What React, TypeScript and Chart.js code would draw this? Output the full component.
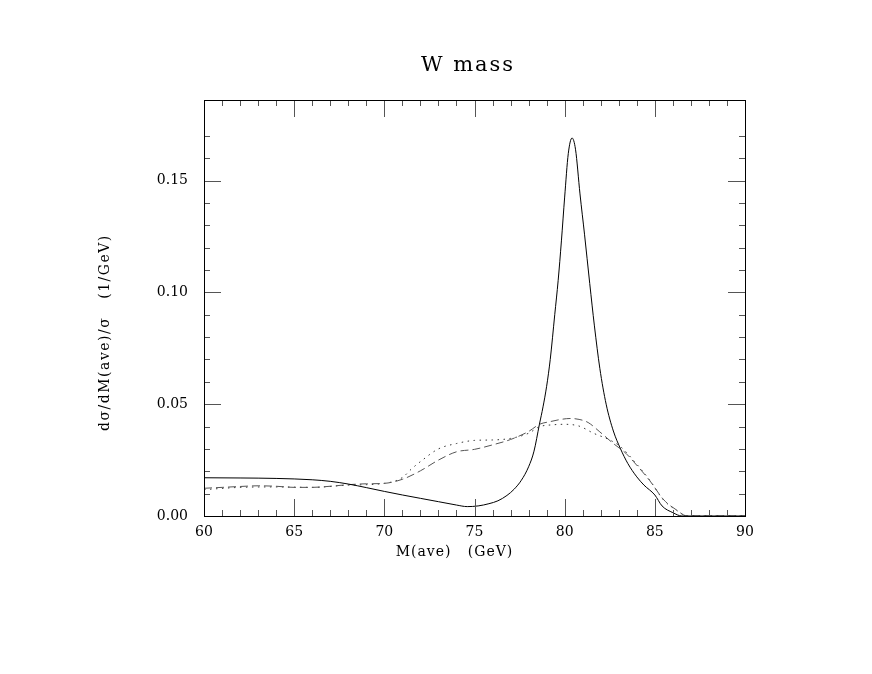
import { useEffect, useRef } from 'react'
import { Chart, registerables } from 'chart.js'

Chart.register(...registerables)

// M(ave) in GeV against d(sigma)/dM / sigma in 1/GeV
const solidMass = [
  60, 62, 64, 66, 67, 68, 69, 70, 71, 72, 73, 74, 74.6, 75.2, 75.8, 76.3, 76.8, 77.2, 77.6, 78,
  78.3, 78.6, 78.8, 79, 79.2, 79.45, 79.64, 79.82, 80, 80.2, 80.41, 80.6, 80.85, 81.1, 81.39,
  81.65, 81.95, 82.3, 82.7, 83.1, 83.5, 84, 84.4, 85, 85.4, 86, 86.5, 90,
]
const solidValue = [
  0.0171, 0.017, 0.0168, 0.0162, 0.0155, 0.0143, 0.0127, 0.011, 0.0094, 0.0079, 0.0064, 0.0049,
  0.0042, 0.0045, 0.0055, 0.0068, 0.0092, 0.012, 0.016, 0.022, 0.029, 0.041, 0.0488, 0.058, 0.07,
  0.09, 0.1054, 0.123, 0.1426, 0.162, 0.169, 0.164, 0.144, 0.126, 0.104, 0.085, 0.066, 0.05,
  0.038, 0.03, 0.0235, 0.0175, 0.0138, 0.0094, 0.0045, 0.0015, 0, 0,
]

const dashedMass = [
  60, 61, 62, 63, 64, 65, 66, 67, 68, 69, 70, 71, 72, 73, 74, 75, 76, 77, 78, 78.6, 79.2, 79.8,
  80.3, 80.8, 81.3, 81.95, 82.7, 83.4, 83.8, 84.7, 85.5, 86.2, 86.8, 90,
]
const dashedValue = [
  0.0124, 0.0128, 0.0132, 0.0135, 0.0133, 0.0128, 0.0128, 0.0133, 0.014, 0.0144, 0.0146, 0.0164,
  0.0202, 0.025, 0.0287, 0.0298, 0.0318, 0.0342, 0.0378, 0.041, 0.0422, 0.0432, 0.0436, 0.0432,
  0.0418, 0.0376, 0.0324, 0.028, 0.0245, 0.016, 0.0072, 0.0027, 0, 0,
]

const dottedMass = [
  60, 62, 64, 66, 68, 70, 71, 71.5, 72, 73, 74, 75, 76, 77, 78, 78.6, 79.4, 80, 80.8, 81.6, 82.5,
  83.1, 83.8, 84.7, 85.5, 86.2, 86.8, 90,
]
const dottedValue = [
  0.0118, 0.0128, 0.013, 0.0128, 0.0138, 0.0146, 0.0172, 0.021, 0.0243, 0.03, 0.0324, 0.0338,
  0.034, 0.0347, 0.037, 0.0399, 0.0408, 0.041, 0.0402, 0.037, 0.034, 0.031, 0.025, 0.0162, 0.007,
  0.0026, 0, 0,
]

const xLabels = [60, 65, 70, 75, 80, 85, 90]
const yLabels = [0, 0.05, 0.1, 0.15]

const FONT = '"DejaVu Serif", serif'

const toPoints = (xs: number[], ys: number[]) => xs.map((x, i) => ({ x, y: ys[i] }))

const isMajorY = (v: number) => yLabels.some(l => Math.abs(l - v) < 1e-6)
const onGridY = (v: number) => Math.abs(v * 100 - Math.round(v * 100)) < 1e-6

// frame, inward ticks on all four sides and the text labels
const framePlugin = {
  id: 'frame',
  afterDraw(chart: Chart) {
    const { ctx, chartArea: a } = chart
    const xs = chart.scales.x
    const ys = chart.scales.y
    const w = a.right - a.left
    const h = a.bottom - a.top
    ctx.save()

    ctx.strokeStyle = '#555'
    ctx.lineWidth = 1
    ctx.beginPath()
    xs.ticks.forEach(t => {
      const px = Math.round(xs.getPixelForValue(t.value)) + 0.5
      const len = xLabels.includes(t.value) ? 17 : 6
      ctx.moveTo(px, a.bottom)
      ctx.lineTo(px, a.bottom - len)
      ctx.moveTo(px, a.top)
      ctx.lineTo(px, a.top + len)
    })
    ys.ticks.forEach(t => {
      if (!onGridY(t.value)) return
      const py = Math.round(ys.getPixelForValue(t.value)) + 0.5
      const len = isMajorY(t.value) ? 17 : 6
      ctx.moveTo(a.left, py)
      ctx.lineTo(a.left + len, py)
      ctx.moveTo(a.right, py)
      ctx.lineTo(a.right - len, py)
    })
    ctx.stroke()

    ctx.strokeStyle = '#000'
    ctx.strokeRect(a.left + 0.5, a.top + 0.5, w, h)

    ctx.fillStyle = '#000'
    ctx.textAlign = 'center'
    ctx.textBaseline = 'middle'

    ctx.font = `21px ${FONT}`
    ;(ctx as any).letterSpacing = '2px'
    ctx.fillText('W mass', a.left + w * 0.488, a.top - 34)

    ctx.font = `14px ${FONT}`
    ;(ctx as any).letterSpacing = '1px'
    ctx.fillText('M(ave)   (GeV)', a.left + w * 0.463, a.bottom + 36)

    ;(ctx as any).letterSpacing = '1.5px'
    ctx.translate(105, a.top + h * 0.559)
    ctx.rotate(-Math.PI / 2)
    ctx.fillText('d\u03c3/dM(ave)/\u03c3   (1/GeV)', 0, 0)

    ctx.restore()
  },
}

const WMassChart = () => {
  const canvasRef = useRef<HTMLCanvasElement>(null)
  const chartRef = useRef<Chart | null>(null)

  useEffect(() => {
    if (!canvasRef.current) return
    if (chartRef.current) chartRef.current.destroy()

    const line = {
      pointRadius: 0,
      borderWidth: 1,
      fill: false,
      cubicInterpolationMode: 'monotone' as const,
    }

    chartRef.current = new Chart(canvasRef.current, {
      type: 'line',
      data: {
        datasets: [
          { ...line, label: 'solid', data: toPoints(solidMass, solidValue), borderColor: '#000' },
          {
            ...line,
            label: 'dashed',
            data: toPoints(dashedMass, dashedValue),
            borderColor: '#555',
            borderDash: [8, 4],
          },
          {
            ...line,
            label: 'dotted',
            data: toPoints(dottedMass, dottedValue),
            borderColor: '#333',
            borderDash: [1.5, 4.5],
          },
        ],
      },
      options: {
        animation: false,
        responsive: false,
        layout: { padding: { top: 100, right: 127, bottom: 0, left: 0 } },
        plugins: {
          legend: { display: false },
          tooltip: { enabled: false },
        },
        scales: {
          x: {
            type: 'linear',
            min: 60,
            max: 90,
            grid: { display: false, drawTicks: false },
            border: { display: false },
            afterFit: (scale: any) => {
              scale.height = 158
            },
            ticks: {
              stepSize: 1,
              autoSkip: false,
              maxRotation: 0,
              padding: 8,
              color: '#000',
              font: { family: FONT, size: 14 },
              callback: (v: any) => (xLabels.includes(Number(v)) ? String(v) : ''),
            },
          },
          y: {
            type: 'linear',
            min: 0,
            max: 0.186,
            grid: { display: false, drawTicks: false },
            border: { display: false },
            afterFit: (scale: any) => {
              scale.width = 204
            },
            ticks: {
              stepSize: 0.01,
              autoSkip: false,
              padding: 16,
              color: '#000',
              font: { family: FONT, size: 14 },
              callback: (v: any) => (isMajorY(Number(v)) ? Number(v).toFixed(2) : ''),
            },
          },
        },
      },
      plugins: [framePlugin],
    })

    return () => {
      if (chartRef.current) {
        chartRef.current.destroy()
        chartRef.current = null
      }
    }
  }, [])

  return (
    <div style={{ width: 872, height: 674, background: '#fff' }}>
      <canvas ref={canvasRef} width={872} height={674}></canvas>
    </div>
  )
}

export default function App() {
  useEffect(() => {
    document.body.style.margin = '0'
  }, [])
  return <WMassChart />
}
